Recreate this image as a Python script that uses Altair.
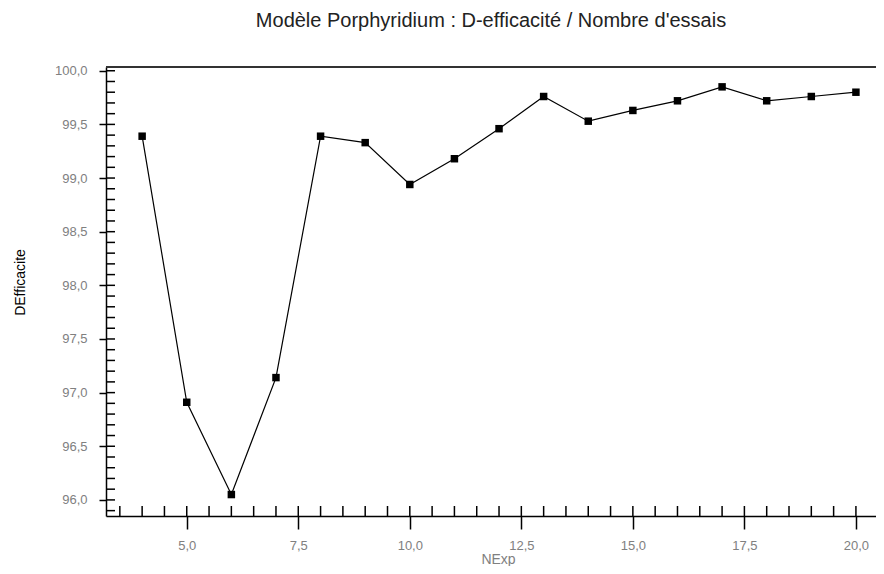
import altair as alt
import pandas as pd

# ---- data ----
nexp = [4, 5, 6, 7, 8, 9, 10, 11, 12, 13, 14, 15, 16, 17, 18, 19, 20]
deff = [99.39, 96.91, 96.05, 97.14, 99.39, 99.33, 98.94, 99.18, 99.46,
        99.76, 99.53, 99.63, 99.72, 99.85, 99.72, 99.76, 99.80]

x_major = [5.0, 7.5, 10.0, 12.5, 15.0, 17.5, 20.0]
y_major = [96.0, 96.5, 97.0, 97.5, 98.0, 98.5, 99.0, 99.5, 100.0]
x_minor = [3.5 + 0.5 * i for i in range(34)]          # 3.5 .. 20.0
y_minor = [round(95.9 + 0.1 * i, 1) for i in range(42)]  # 95.9 .. 100.0

title_text = "Modèle Porphyridium : D-efficacité / Nombre d'essais"
x_title = "NExp"
y_title = "DEfficacite"

W, H = 770, 449
XDOM = [3.19, 20.45]
YDOM = [95.85, 100.035]
FONT = "Liberation Sans"
GREY = "#808080"

df = pd.DataFrame({"NExp": nexp, "DEff": deff})
dfx = pd.DataFrame({"t": x_minor})
dfy = pd.DataFrame({"t": y_minor})

lab = "replace(format(datum.value, '.1f'), '.', ',')"

xscale = alt.Scale(domain=XDOM, nice=False, zero=False)
yscale = alt.Scale(domain=YDOM, nice=False, zero=False)

base = alt.Chart(df)

line = base.mark_line(color="black", strokeWidth=1.2).encode(
    x=alt.X("NExp:Q", scale=xscale,
            axis=alt.Axis(values=x_major, labelExpr=lab, title=x_title,
                          grid=False, tickSize=13, tickColor="black",
                          tickWidth=1.5, domainColor="black", domainWidth=1.5,
                          labelColor=GREY, labelFont=FONT, labelFontSize=13,
                          labelPadding=10, titleColor=GREY, titleFont=FONT,
                          titleFontSize=14, titleFontWeight="normal",
                          titleX=392, titleY=43, titleAlign="center",
                          titleBaseline="middle")),
    y=alt.Y("DEff:Q", scale=yscale,
            axis=alt.Axis(values=y_major, labelExpr=lab, title=y_title,
                          grid=False, tickSize=7, tickColor="black",
                          tickWidth=1.5, domainColor="black", domainWidth=1.5,
                          labelColor=GREY, labelFont=FONT, labelFontSize=13,
                          labelPadding=12, titleColor="black", titleFont=FONT,
                          titleFontSize=14, titleFontWeight="normal",
                          titleX=-86, titleY=215, titleBaseline="middle")),
)

pts = base.mark_square(color="black", size=56, opacity=1).encode(
    x=alt.X("NExp:Q", scale=xscale),
    y=alt.Y("DEff:Q", scale=yscale),
)

xt = alt.Chart(dfx).mark_rule(color="black", strokeWidth=1.5).encode(
    x=alt.X("t:Q", scale=xscale),
    y=alt.value(H),
    y2=alt.value(H - 10),
)

yt = alt.Chart(dfy).mark_rule(color="black", strokeWidth=1.5).encode(
    y=alt.Y("t:Q", scale=yscale),
    x=alt.value(0),
    x2=alt.value(9),
)

top = alt.Chart(df).mark_rule(color="#333333", strokeWidth=2).encode(
    x=alt.value(0), x2=alt.value(W), y=alt.value(0)
)

chart = alt.layer(top, xt, yt, line, pts).properties(
    width=W,
    height=H,
    autosize=alt.AutoSizeParams(type="none"),
    padding={"left": 98, "top": 59, "right": 0, "bottom": 50},
    title=alt.TitleParams(title_text, font=FONT, fontSize=20,
                          fontWeight="normal", color="#222222",
                          anchor="middle", offset=34),
).configure_view(stroke=None)

chart.save("out.html", embed_options={"renderer": "svg", "actions": False})
